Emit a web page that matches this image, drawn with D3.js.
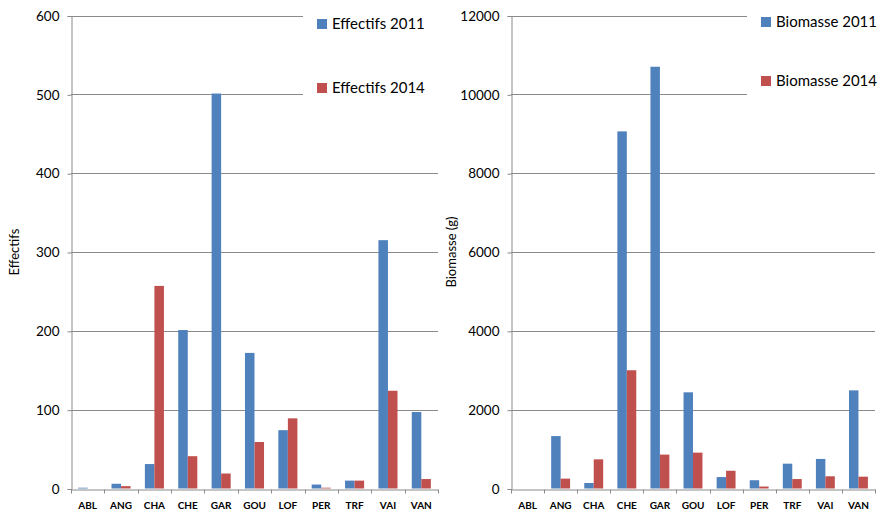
<!DOCTYPE html>
<html>
<head>
<meta charset="utf-8">
<script src="https://cdn.jsdelivr.net/npm/d3@7"></script>
<style>
  html, body { margin: 0; padding: 0; background: #fff; }
  svg { display: block; }
  text { font-family: Lato, "Open Sans", "Noto Sans", sans-serif; fill: #000; }
</style>
</head>
<body>
<svg id="chart" width="879" height="513"></svg>
<script>
// Species codes shared by both panels
const species = ["ABL", "ANG", "CHA", "CHE", "GAR", "GOU", "LOF", "PER", "TRF", "VAI", "VAN"];

// Counts (individuals)
const effectifs2011 = [1, 6, 31, 201, 501, 172, 74, 5, 10, 315, 97];
const effectifs2014 = [0, 3, 257, 41, 19, 59, 89, 1, 10, 124, 12];
const effectifsTicks = [0, 100, 200, 300, 400, 500, 600];

// Biomass (grams)
const biomasse2011 = [0, 1330, 140, 9060, 10700, 2440, 290, 210, 630, 750, 2490];
const biomasse2014 = [0, 250, 740, 3000, 860, 910, 450, 50, 240, 310, 300];
const biomasseTicks = [0, 2000, 4000, 6000, 8000, 10000, 12000];

const seriesColors = ["#4F81BD", "#C0504D"];

const svg = d3.select("#chart");

function panel(cfg) {
  const g = svg.append("g");
  const x = d3.scaleBand().domain(species).range([cfg.x0, cfg.x1]).paddingInner(0).paddingOuter(0);
  const y = d3.scaleLinear().domain([0, cfg.max]).range([cfg.yBottom, cfg.yTop]);
  const inner = d3.scaleBand().domain([0, 1]).range([0, x.bandwidth()]).paddingInner(0).paddingOuter(0.75);

  // horizontal gridlines
  g.append("g").selectAll("line").data(cfg.ticks.filter(t => t > 0)).join("line")
    .attr("x1", cfg.x0).attr("x2", cfg.x1)
    .attr("y1", d => Math.round(y(d)) + 0.5).attr("y2", d => Math.round(y(d)) + 0.5)
    .attr("stroke", "#8a8a8a").attr("stroke-width", 1);

  // bars
  const series = [cfg.s2011, cfg.s2014];
  series.forEach((vals, si) => {
    g.append("g").selectAll("rect").data(vals).join("rect")
      .attr("x", (d, i) => x(species[i]) + inner(si))
      .attr("width", inner.bandwidth())
      .attr("y", d => y(d))
      .attr("height", d => y(0) - y(d))
      .attr("fill", seriesColors[si]);
  });

  // y axis
  const yAxis = d3.axisLeft(y).tickValues(cfg.ticks).tickSize(4).tickPadding(8).tickFormat(d3.format("d"));
  const ya = g.append("g").attr("transform", `translate(${cfg.x0 + 0.5},0.5)`).call(yAxis);
  ya.select(".domain").attr("stroke", "#8a8a8a");
  ya.selectAll(".tick line").attr("stroke", "#8a8a8a");
  ya.selectAll(".tick text").style("font-size", "13.5px").attr("fill", "#000");

  // x axis
  const xAxis = d3.axisBottom(x).tickSize(0).tickPadding(12);
  const xa = g.append("g").attr("transform", `translate(0,${Math.round(y(0)) + 0.5})`).call(xAxis);
  xa.select(".domain").attr("stroke", "#8a8a8a");
  xa.selectAll(".tick text").style("font-size", "10px").style("font-weight", "bold").attr("fill", "#222");
  // category separators below the axis
  g.append("g").selectAll("line").data(species.concat(["end"])).join("line")
    .attr("x1", (d, i) => Math.round(cfg.x0 + i * x.step()) + 0.5)
    .attr("x2", (d, i) => Math.round(cfg.x0 + i * x.step()) + 0.5)
    .attr("y1", Math.round(y(0)) + 0.5).attr("y2", Math.round(y(0)) + 4.5)
    .attr("stroke", "#8a8a8a");

  // axis title
  g.append("text")
    .attr("transform", `translate(${cfg.titleX},${(cfg.yTop + cfg.yBottom) / 2}) rotate(-90)`)
    .attr("text-anchor", "middle")
    .style("font-size", "13px")
    .text(cfg.title);

  // legend, drawn over the plot with a white background
  const lg = g.append("g");
  lg.append("rect").attr("x", cfg.legX).attr("y", 0).attr("width", cfg.x1 - cfg.legX + 2).attr("height", 104).attr("fill", "#fff");
  cfg.legend.forEach((label, i) => {
    const ly = cfg.legY[i];
    lg.append("rect").attr("x", cfg.legX + 14).attr("y", ly - 5).attr("width", 10).attr("height", 10).attr("fill", seriesColors[i]);
    lg.append("text").attr("x", cfg.legX + 29).attr("y", ly).attr("dy", "0.35em")
      .style("font-size", "15px").text(label);
  });
}

panel({
  x0: 71, x1: 438, yTop: 15.5, yBottom: 488.5, max: 600,
  ticks: effectifsTicks, s2011: effectifs2011, s2014: effectifs2014,
  title: "Effectifs", titleX: 19,
  legX: 303, legY: [24, 88], legend: ["Effectifs 2011", "Effectifs 2014"]
});

panel({
  x0: 511, x1: 875, yTop: 15.5, yBottom: 488.5, max: 12000,
  ticks: biomasseTicks, s2011: biomasse2011, s2014: biomasse2014,
  title: "Biomasse (g)", titleX: 456,
  legX: 747, legY: [22, 81], legend: ["Biomasse 2011", "Biomasse 2014"]
});
</script>
</body>
</html>
